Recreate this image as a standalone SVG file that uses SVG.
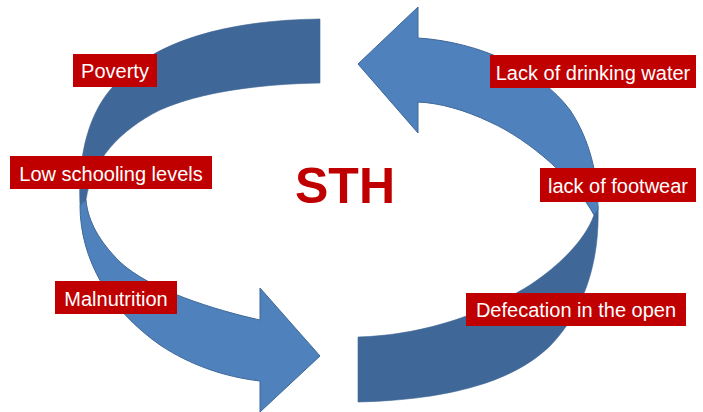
<svg xmlns="http://www.w3.org/2000/svg" width="703" height="412" viewBox="0 0 703 412">
  <style>
    .back { fill: #3f6797; stroke: #3f6797; stroke-width: 0.6; }
    .front { fill: #4f81bd; stroke: #3e6897; stroke-width: 1; stroke-linejoin: miter; }
    .box { fill: #c00000; }
    .lbl { fill: #ffffff; font-family: "Liberation Sans", Arial, sans-serif; font-size: 20px; text-anchor: middle; }
    .title { fill: #c00000; font-family: "Liberation Sans", Arial, sans-serif; font-size: 50px; font-weight: bold; text-anchor: middle; }
  </style>
  <rect width="703" height="412" fill="#ffffff"/>
  <g id="connectors">
    <g id="arrow-left">
      <path class="back" d="M320,19 C230,20 150,40 110,90 C85,120 78,165 80,205 L86,200 C92,160 120,130 160,110 C200,92 260,84 320,83 Z"/>
      <path class="front" d="M80,205 C80,260 110,310 160,345 C190,365 225,377 260,381 L260,412 L320,356 L260,288 L260,320 C215,310 150,290 120,262 C100,242 88,222 86,200 Z"/>
    </g>
    <g id="arrow-right">
      <path class="back" d="M598,206 C600,260 585,310 550,346 C510,385 440,400 358,402 L358,337 C430,335 490,310 530,285 C560,265 585,240 594,215 Z"/>
      <path class="front" d="M358,64 L418,7 L418,38 C480,42 540,70 570,110 C590,140 598,175 598,210 L594,215 C575,180 530,140 490,122 C465,110 440,103 418,102 L418,133 Z"/>
    </g>
  </g>
  <g id="center">
    <text class="title" x="345" y="203">STH</text>
  </g>
  <g id="poverty">
    <rect class="box" x="73" y="54" width="84" height="33"/>
    <text class="lbl" x="115" y="78">Poverty</text>
  </g>
  <g id="low-schooling">
    <rect class="box" x="10" y="156" width="202" height="33"/>
    <text class="lbl" x="111" y="180.5">Low schooling levels</text>
  </g>
  <g id="malnutrition">
    <rect class="box" x="55" y="281" width="122" height="33"/>
    <text class="lbl" x="116" y="305.5">Malnutrition</text>
  </g>
  <g id="drinking-water">
    <rect class="box" x="490" y="55" width="206" height="33"/>
    <text class="lbl" x="593" y="79.5">Lack of drinking water</text>
  </g>
  <g id="footwear">
    <rect class="box" x="540" y="168" width="156" height="34"/>
    <text class="lbl" x="618" y="192.5">lack of footwear</text>
  </g>
  <g id="defecation">
    <rect class="box" x="466" y="293" width="220" height="33"/>
    <text class="lbl" x="576" y="317">Defecation in the open</text>
  </g>
</svg>
